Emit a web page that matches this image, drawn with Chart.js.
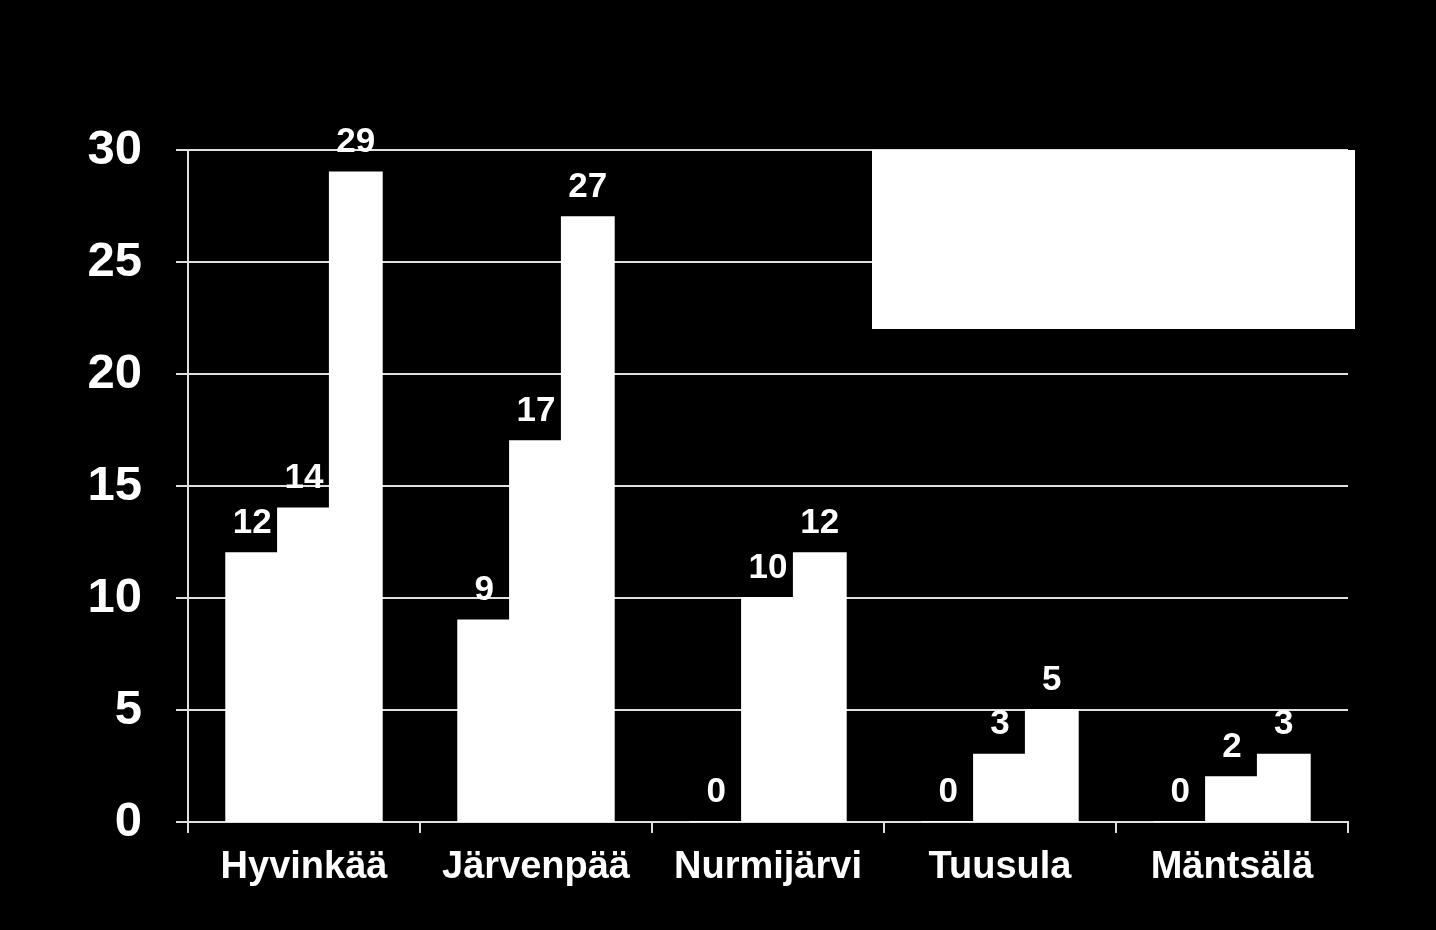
<!DOCTYPE html>
<html>
<head>
<meta charset="utf-8">
<script src="https://cdn.jsdelivr.net/npm/chart.js@4/dist/chart.umd.min.js"></script>
<style>
  html, body { margin: 0; padding: 0; background: #000; }
  #wrap { width: 1436px; height: 930px; }
</style>
</head>
<body>
<div id="wrap"><canvas id="chart" width="1436" height="930"></canvas></div>
<script>
const categories = ["Hyvinkää", "Järvenpää", "Nurmijärvi", "Tuusula", "Mäntsälä"];
const series1 = [12, 9, 0, 0, 0];
const series2 = [14, 17, 10, 3, 2];
const series3 = [29, 27, 12, 5, 3];
const seriesNames = ["Sarja 1", "Sarja 2", "Sarja 3"];
const yTicks = [0, 5, 10, 15, 20, 25, 30];

// value labels above each bar
const valueLabels = {
  id: "valueLabels",
  afterDatasetsDraw(chart) {
    const ctx = chart.ctx;
    ctx.save();
    ctx.fillStyle = "#fff";
    ctx.font = "bold 35px 'Liberation Sans', Arial, sans-serif";
    ctx.textAlign = "center";
    ctx.textBaseline = "middle";
    chart.data.datasets.forEach((ds, i) => {
      chart.getDatasetMeta(i).data.forEach((bar, j) => {
        ctx.fillText(ds.data[j], bar.x, bar.y - 30);
      });
    });
    ctx.restore();
  }
};

// empty white legend box in the top right
const legendBox = {
  id: "legendBox",
  afterDraw(chart) {
    const ctx = chart.ctx;
    const a = chart.chartArea;
    ctx.save();
    ctx.fillStyle = "#fff";
    ctx.fillRect(872, a.top, 1355 - 872, 329 - a.top);
    ctx.restore();
  }
};

new Chart(document.getElementById("chart"), {
  type: "bar",
  data: {
    labels: categories,
    datasets: [
      { label: seriesNames[0], data: series1, backgroundColor: "#fff" },
      { label: seriesNames[1], data: series2, backgroundColor: "#fff" },
      { label: seriesNames[2], data: series3, backgroundColor: "#fff" }
    ]
  },
  options: {
    responsive: false,
    animation: false,
    layout: { padding: { top: 150, right: 88, left: 0, bottom: 0 } },
    datasets: {
      bar: { categoryPercentage: 0.67, barPercentage: 1.0, borderWidth: 0, inflateAmount: 1 }
    },
    plugins: {
      legend: { display: false },
      tooltip: { enabled: false }
    },
    scales: {
      x: {
        offset: true,
        grid: {
          offset: true,
          drawOnChartArea: false,
          drawTicks: true,
          tickLength: 11,
          color: "#e0e0e0",
          lineWidth: 2
        },
        border: { display: true, color: "#e0e0e0", width: 2 },
        ticks: {
          color: "#fff",
          padding: 12,
          font: { family: "'Liberation Sans', Arial, sans-serif", size: 38, weight: "bold" }
        },
        afterFit(scale) { scale.height = 108; }
      },
      y: {
        min: 0,
        max: 30,
        afterBuildTicks(scale) { scale.ticks = yTicks.map(v => ({ value: v })); },
        grid: {
          color: "#e0e0e0",
          lineWidth: 2,
          tickLength: 12
        },
        border: { display: true, color: "#e0e0e0", width: 2 },
        ticks: {
          color: "#fff",
          padding: 34,
          font: { family: "'Liberation Sans', Arial, sans-serif", size: 49, weight: "bold" }
        },
        afterFit(scale) { scale.width = 188; }
      }
    }
  },
  plugins: [valueLabels, legendBox]
});
</script>
</body>
</html>
